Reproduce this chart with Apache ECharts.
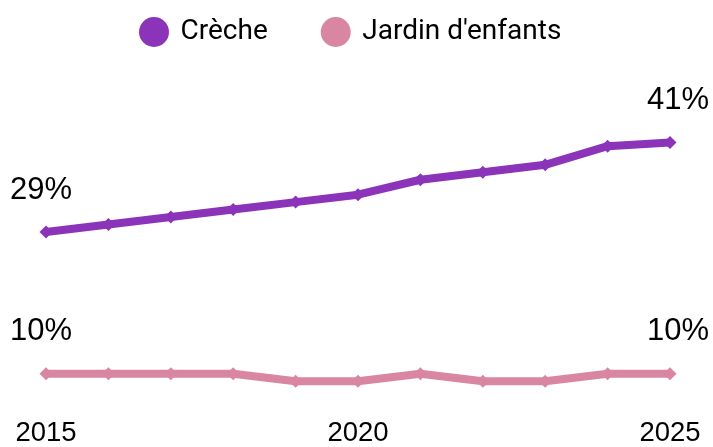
<!DOCTYPE html>
<html>
<head>
<meta charset="utf-8">
<script src="https://cdn.jsdelivr.net/npm/echarts@6/dist/echarts.min.js"></script>
<style>html,body{margin:0;padding:0;background:#fff;}#c{width:713px;height:447px;}</style>
</head>
<body>
<div id="c"></div>
<script>
var years = ['2015','2016','2017','2018','2019','2020','2021','2022','2023','2024','2025'];
var creche = [29, 30, 31, 32, 33, 34, 36, 37, 38, 40.5, 41];
var jardin = [10, 10, 10, 10, 9, 9, 10, 9, 9, 10, 10];
var seriesNames = ['Crèche', "Jardin d'enfants"];
var colors = ['#8B34BA', '#D886A1'];

function withEndLabels(values) {
  var last = values.length - 1;
  return values.map(function (v, i) {
    if (i === 0) return { value: v, label: { show: true, offset: [-5, -6] } };
    if (i === last) return { value: v, label: { show: true, offset: [8, -6] } };
    return v;
  });
}

var chart = echarts.init(document.getElementById('c'));
var labelStyle = {
  show: false,
  position: 'top',
  distance: 14,
  fontFamily: 'Liberation Sans, Arial, sans-serif',
  fontSize: 31,
  color: '#000',
  formatter: function (p) { return Math.round(p.value) + '%'; }
};
chart.setOption({
  animation: false,
  color: colors,
  legend: {
    left: 134,
    top: 12,
    icon: 'circle',
    itemWidth: 31,
    itemHeight: 30,
    itemGap: 53,
    textStyle: { fontFamily: 'Roboto', fontSize: 28, color: '#000', padding: [0, 0, 0, 6] },
    data: seriesNames
  },
  grid: { left: 46, right: 43, top: 112.6, bottom: 33.4, containLabel: false },
  xAxis: {
    type: 'category',
    data: years,
    boundaryGap: false,
    axisLine: { show: false },
    axisTick: { show: false },
    axisLabel: {
      interval: 4,
      margin: 8,
      fontFamily: 'Liberation Sans, Arial, sans-serif',
      fontSize: 27.5,
      color: '#000'
    }
  },
  yAxis: { type: 'value', min: 5, max: 45, show: false, splitLine: { show: false } },
  series: [
    {
      name: seriesNames[0], type: 'line', data: withEndLabels(creche),
      symbol: 'diamond', symbolSize: 13, lineStyle: { width: 8 },
      label: labelStyle
    },
    {
      name: seriesNames[1], type: 'line', data: withEndLabels(jardin),
      symbol: 'diamond', symbolSize: 13, lineStyle: { width: 8 },
      label: labelStyle
    }
  ]
});
</script>
</body>
</html>
